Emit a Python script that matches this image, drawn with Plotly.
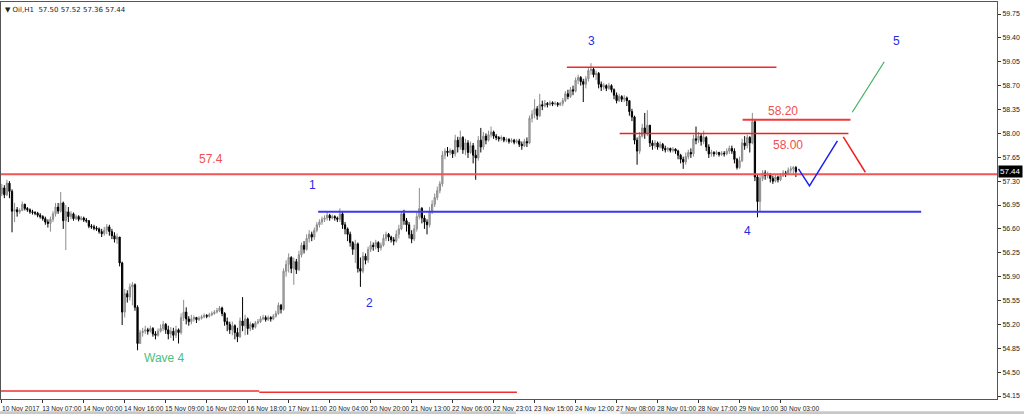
import plotly.graph_objects as go

# ---------------- data ----------------
first_open = 57.12
closes = [
    57.20,57.10,57.27,57.15,56.86,56.88,56.85,56.87,56.96,56.90,
    56.88,56.85,56.84,56.83,56.80,56.78,56.75,56.70,56.68,56.74,
    56.82,56.92,56.86,56.98,56.72,56.85,56.78,56.82,56.75,56.78,
    56.74,56.76,56.73,56.72,56.64,56.63,56.61,56.60,56.56,56.53,
    56.58,56.63,56.56,56.50,56.45,56.48,56.10,55.38,55.65,55.60,
    55.75,55.78,55.45,54.92,55.08,55.10,55.12,55.10,55.14,55.06,
    55.04,55.10,55.14,55.20,55.12,55.06,55.10,55.04,55.12,55.08,
    55.30,55.38,55.28,55.24,55.28,55.30,55.27,55.29,55.31,55.33,
    55.32,55.34,55.36,55.38,55.40,55.44,55.36,55.24,55.20,55.12,
    55.18,55.08,55.02,55.25,55.18,55.28,55.14,55.20,55.16,55.22,
    55.24,55.28,55.30,55.27,55.30,55.28,55.32,55.36,55.48,55.42,
    55.98,56.08,56.18,56.02,56.12,56.00,56.22,56.36,56.30,56.46,
    56.52,56.48,56.58,56.66,56.70,56.74,56.76,56.80,56.76,56.78,
    56.76,56.74,56.82,56.66,56.60,56.52,56.40,56.30,56.38,56.02,
    55.98,56.20,56.14,56.30,56.36,56.34,56.40,56.32,56.36,56.46,
    56.52,56.48,56.44,56.42,56.52,56.60,56.82,56.72,56.66,56.52,
    56.45,56.60,56.78,56.90,56.76,56.70,56.66,56.86,56.96,57.06,
    57.16,57.26,57.68,57.74,57.72,57.75,57.70,57.90,57.80,57.94,
    57.76,57.86,57.72,57.82,57.68,57.64,57.90,57.80,57.96,57.90,
    57.98,58.02,57.96,57.94,57.92,57.94,57.90,57.91,57.88,57.90,
    57.87,57.89,57.84,57.82,57.88,57.86,58.22,58.28,58.36,58.26,
    58.42,58.40,58.44,58.42,58.45,58.43,58.44,58.42,58.44,58.48,
    58.58,58.54,58.64,58.62,58.78,58.82,58.76,58.72,58.80,58.92,
    58.94,58.86,58.88,58.72,58.68,58.70,58.66,58.70,58.64,58.56,
    58.48,58.54,58.50,58.52,58.48,58.32,58.24,57.90,57.74,57.96,
    58.08,58.00,58.12,57.86,57.82,57.86,57.80,57.84,57.78,57.76,
    57.78,57.75,57.77,57.74,57.68,57.62,57.58,57.66,57.72,57.70,
    57.92,57.90,57.96,57.88,57.94,57.80,57.70,57.72,57.70,57.72,
    57.69,57.71,57.70,57.74,57.78,57.74,57.62,57.50,57.60,57.86,
    57.82,57.94,57.86,58.17,57.36,57.00,57.34,57.42,57.38,57.40,
    57.34,57.30,57.36,57.32,57.38,57.42,57.40,57.46,57.48,57.50,
    57.44,
]
highs = [
    57.26,57.24,57.32,57.30,57.18,56.98,56.92,56.90,57.00,56.97,
    56.92,56.90,56.88,56.86,56.85,56.83,56.80,56.78,56.74,56.78,
    56.86,56.98,56.98,57.14,57.00,56.95,56.92,56.86,56.84,56.81,
    56.80,56.79,56.78,56.76,56.73,56.67,56.66,56.64,56.62,56.60,
    56.63,56.67,56.66,56.60,56.55,56.53,56.48,56.12,55.72,55.70,
    55.80,55.82,55.80,55.48,55.12,55.15,55.18,55.15,55.18,55.16,
    55.10,55.14,55.20,55.25,55.22,55.18,55.16,55.15,55.18,55.14,
    55.36,55.56,55.45,55.32,55.34,55.33,55.31,55.32,55.34,55.36,
    55.35,55.37,55.39,55.41,55.44,55.47,55.46,55.38,55.30,55.24,
    55.24,55.20,55.15,55.30,55.60,55.34,55.30,55.24,55.22,55.25,
    55.28,55.32,55.34,55.33,55.33,55.32,55.35,55.40,55.52,55.50,
    56.02,56.14,56.24,56.20,56.18,56.16,56.28,56.40,56.42,56.52,
    56.58,56.56,56.62,56.70,56.74,56.78,56.80,56.86,56.82,56.81,
    56.80,56.78,56.90,56.86,56.70,56.62,56.56,56.42,56.44,56.40,
    56.18,56.26,56.24,56.34,56.42,56.40,56.44,56.42,56.40,56.52,
    56.56,56.54,56.50,56.48,56.58,56.66,56.86,56.88,56.76,56.70,
    56.58,56.66,56.84,57.20,56.92,56.80,56.74,56.92,57.02,57.12,
    57.22,57.30,57.74,57.78,57.80,57.78,57.76,57.98,57.95,58.04,
    57.96,57.92,57.90,57.88,57.86,57.76,57.96,58.08,58.02,58.00,
    58.04,58.10,58.04,57.99,57.96,57.97,57.95,57.94,57.93,57.93,
    57.92,57.92,57.92,57.88,57.92,57.94,58.26,58.34,58.50,58.40,
    58.58,58.48,58.49,58.46,58.48,58.47,58.47,58.46,58.46,58.52,
    58.62,58.64,58.68,58.70,58.82,58.86,58.84,58.80,58.84,58.96,
    59.03,58.96,58.92,58.90,58.76,58.74,58.72,58.74,58.72,58.66,
    58.60,58.58,58.56,58.56,58.54,58.48,58.36,58.26,57.94,58.02,
    58.14,58.30,58.34,58.12,57.90,57.90,57.88,57.88,57.86,57.82,
    57.80,57.79,57.80,57.78,57.76,57.70,57.66,57.72,57.76,57.78,
    57.98,58.10,58.02,58.00,58.04,57.96,57.84,57.76,57.74,57.75,
    57.73,57.74,57.74,57.78,57.82,57.82,57.78,57.64,57.66,57.92,
    57.96,57.98,57.96,58.30,58.20,57.40,57.40,57.46,57.46,57.44,
    57.42,57.38,57.40,57.38,57.42,57.46,57.45,57.50,57.52,57.52,
    57.52,
]
lows = [
    57.08,57.05,57.08,57.05,56.55,56.70,56.78,56.82,56.86,56.87,
    56.85,56.82,56.81,56.80,56.77,56.75,56.72,56.66,56.62,56.56,
    56.70,56.78,56.82,56.84,56.60,56.29,56.70,56.74,56.72,56.73,
    56.71,56.72,56.70,56.69,56.61,56.60,56.58,56.57,56.53,56.48,
    56.50,56.52,56.50,56.45,56.40,56.38,56.05,55.19,55.30,55.52,
    55.55,55.48,55.40,54.82,54.92,55.02,55.06,55.05,55.08,55.02,
    54.98,55.02,55.08,55.10,55.06,54.98,55.00,54.96,55.00,54.92,
    55.05,55.25,55.20,55.18,55.20,55.24,55.22,55.25,55.27,55.29,
    55.29,55.30,55.32,55.34,55.36,55.38,55.32,55.18,55.10,55.06,
    55.04,54.98,54.94,55.00,55.10,55.04,55.05,55.10,55.12,55.14,
    55.20,55.22,55.26,55.24,55.25,55.24,55.26,55.30,55.34,55.36,
    55.40,55.90,55.96,55.95,55.78,55.94,55.98,56.18,56.24,56.28,
    56.40,56.42,56.44,56.55,56.62,56.66,56.70,56.72,56.72,56.74,
    56.72,56.70,56.70,56.60,56.52,56.42,56.34,56.22,56.10,55.96,
    55.75,55.95,56.08,56.10,56.26,56.28,56.30,56.26,56.28,56.34,
    56.42,56.42,56.40,56.36,56.40,56.46,56.58,56.66,56.56,56.46,
    56.39,56.42,56.56,56.74,56.68,56.60,56.52,56.62,56.82,56.92,
    57.02,57.12,57.22,57.62,57.66,57.68,57.64,57.66,57.72,57.76,
    57.70,57.68,57.64,57.70,57.56,57.32,57.60,57.72,57.76,57.84,
    57.88,57.94,57.92,57.90,57.88,57.89,57.87,57.87,57.85,57.86,
    57.84,57.85,57.80,57.76,57.80,57.80,57.84,58.16,58.22,58.20,
    58.24,58.34,58.38,58.38,58.40,58.40,58.41,58.39,58.40,58.40,
    58.46,58.50,58.52,58.56,58.60,58.72,58.70,58.46,58.66,58.76,
    58.86,58.82,58.78,58.66,58.62,58.64,58.62,58.64,58.60,58.50,
    58.44,58.46,58.46,58.46,58.40,58.26,58.18,57.84,57.54,57.70,
    57.94,57.92,57.96,57.80,57.76,57.78,57.76,57.78,57.74,57.72,
    57.73,57.72,57.72,57.70,57.62,57.56,57.48,57.54,57.62,57.64,
    57.66,57.84,57.86,57.82,57.84,57.74,57.64,57.66,57.66,57.68,
    57.66,57.67,57.66,57.68,57.70,57.70,57.56,57.47,57.48,57.58,
    57.76,57.78,57.72,57.84,57.30,56.77,56.85,57.30,57.32,57.34,
    57.28,57.26,57.28,57.28,57.30,57.36,57.36,57.40,57.42,57.40,
    57.36,
]
# open of each H1 bar = close of the bar before it
opens = [first_open] + closes[:-1]

# x-axis time labels (every 16 bars)
x_tick_bars = [0, 16, 32, 48, 64, 80, 96, 112, 128, 144, 160, 176, 192, 208, 224, 240, 256, 272, 288, 304]
x_tick_labels = ["10 Nov 2017", "13 Nov 07:00", "14 Nov 00:00", "14 Nov 16:00", "15 Nov 09:00",
                 "16 Nov 02:00", "16 Nov 18:00", "17 Nov 11:00", "20 Nov 04:00", "20 Nov 20:00",
                 "21 Nov 13:00", "22 Nov 06:00", "22 Nov 23:01", "23 Nov 15:00", "24 Nov 12:00",
                 "27 Nov 08:00", "28 Nov 01:00", "28 Nov 17:00", "29 Nov 10:00", "30 Nov 03:00"]
y_tick_values = [54.15, 54.50, 54.85, 55.20, 55.55, 55.90, 56.25, 56.60, 56.95, 57.30,
                 57.65, 58.00, 58.35, 58.70, 59.05, 59.40, 59.75]
last_price = 57.44

# analysis lines: (start bar, end bar, price)
level_574 = [-0.5, 390.0, 57.40]
level_wave1 = [123.5, 358.9, 56.85]
level_wave3 = [220.6, 302.4, 58.97]
level_5820 = [289.2, 331.3, 58.20]
level_5800 = [241.2, 330.5, 58.00]
bottom_seg1 = [-0.5, 100.5, 54.222]
bottom_seg2 = [100.5, 201.1, 54.205]
# projected paths
blue_path_x = [311.0, 315.3, 326.2]
blue_path_y = [57.48, 57.23, 57.89]
red_path_x = [328.5, 337.1]
red_path_y = [57.95, 57.43]
green_path_x = [332.0, 344.5]
green_path_y = [58.31, 59.05]

# labels: (text, bar, price, colour)
labels = [
    ("57.4", 81.8, 57.62, "#f05050"),
    ("1", 121.2, 57.24, "#2a2ae0"),
    ("2", 143.4, 55.52, "#2a2ae0"),
    ("3", 230.3, 59.36, "#2a2ae0"),
    ("4", 291.1, 56.57, "#2a2ae0"),
    ("5", 349.2, 59.36, "#2a2ae0"),
    ("Wave 4", 63.5, 54.70, "#4cc080"),
    ("58.20", 305.1, 58.33, "#f05050"),
    ("58.00", 307.1, 57.83, "#f05050"),
]

# ---------------- figure ----------------
bars = list(range(len(closes)))
fig = go.Figure()
fig.add_trace(go.Candlestick(
    x=bars, open=opens, high=highs, low=lows, close=closes,
    increasing=dict(line=dict(color="#8c8c8c", width=1), fillcolor="#b4b4b4"),
    decreasing=dict(line=dict(color="#000000", width=1), fillcolor="#000000"),
    whiskerwidth=0, hoverinfo="skip", showlegend=False,
))


def hline(seg, color, width):
    fig.add_trace(go.Scatter(x=[seg[0], seg[1]], y=[seg[2], seg[2]], mode="lines",
                             line=dict(color=color, width=width), hoverinfo="skip",
                             showlegend=False))


hline(level_574, "#f25555", 2)
hline(level_wave1, "#3838f0", 2)
hline(level_wave3, "#f02828", 1.5)
hline(level_5820, "#f03a3a", 2)
hline(level_5800, "#f02020", 1.5)
hline(bottom_seg1, "#f03030", 1.5)
hline(bottom_seg2, "#f03030", 1.5)

fig.add_trace(go.Scatter(x=blue_path_x, y=blue_path_y, mode="lines",
                         line=dict(color="#2020f0", width=1.5), hoverinfo="skip", showlegend=False))
fig.add_trace(go.Scatter(x=red_path_x, y=red_path_y, mode="lines",
                         line=dict(color="#f02020", width=1.5), hoverinfo="skip", showlegend=False))
fig.add_trace(go.Scatter(x=green_path_x, y=green_path_y, mode="lines",
                         line=dict(color="#40b060", width=1.2), hoverinfo="skip", showlegend=False))

for text, bx, py, col in labels:
    fig.add_annotation(x=bx, y=py, text=text, showarrow=False,
                       font=dict(family="Liberation Sans, Arial", size=12, color=col))

# header text
fig.add_annotation(xref="paper", yref="paper", x=0.002, y=0.995, xanchor="left", yanchor="top",
                   text="▼ Oil,H1  57.50 57.52 57.36 57.44", showarrow=False,
                   font=dict(family="DejaVu Sans", size=7, color="#222222"))
# current price box on the price scale
fig.add_annotation(xref="paper", yref="y", x=1.0, y=last_price, xanchor="left",
                   text=f"{last_price:.2f}", showarrow=False, bgcolor="#000000",
                   borderpad=1, xshift=1,
                   font=dict(family="Liberation Sans, Arial", size=8, color="#ffffff"))

# window chrome: grey scrollbar strip under the time scale
fig.add_shape(type="rect", xref="paper", yref="paper", x0=-0.01, x1=1.05,
              y0=-0.040, y1=-0.031, fillcolor="#c8c8c8", line=dict(width=0), layer="above")
fig.add_shape(type="rect", xref="paper", yref="paper", x0=0.517, x1=0.622,
              y0=-0.040, y1=-0.031, fillcolor="#f2f2f2", line=dict(width=0), layer="above")

fig.update_layout(
    width=1024, height=414,
    margin=dict(l=1, r=27, t=2, b=15, autoexpand=False),
    paper_bgcolor="#ffffff", plot_bgcolor="#ffffff",
    showlegend=False, hovermode=False,
    xaxis=dict(
        range=[-0.3, 388.5], rangeslider=dict(visible=False),
        tickmode="array", tickvals=x_tick_bars, ticktext=x_tick_labels,
        ticks="outside", ticklen=3, tickcolor="#333333", tickangle=0,
        ticklabelshift=19, ticklabelstandoff=0, automargin=False,
        ticklabeloverflow="allow",
        tickfont=dict(family="Liberation Sans, Arial", size=6.6, color="#222222"),
        showgrid=False, zeroline=False,
        showline=True, linecolor="#555555", linewidth=1, mirror=True,
    ),
    yaxis=dict(
        range=[54.106, 59.926], side="right", automargin=False,
        tickmode="array", tickvals=y_tick_values,
        ticktext=[f"{v:.2f}" for v in y_tick_values],
        ticks="outside", ticklen=3, tickcolor="#333333",
        tickfont=dict(family="Liberation Sans, Arial", size=7, color="#222222"),
        showgrid=False, zeroline=False,
        showline=True, linecolor="#555555", linewidth=1, mirror=True,
    ),
)

fig.write_html("out.html", config={"displayModeBar": False},
               post_script="document.body.style.margin='0';document.body.style.overflow='hidden';")
